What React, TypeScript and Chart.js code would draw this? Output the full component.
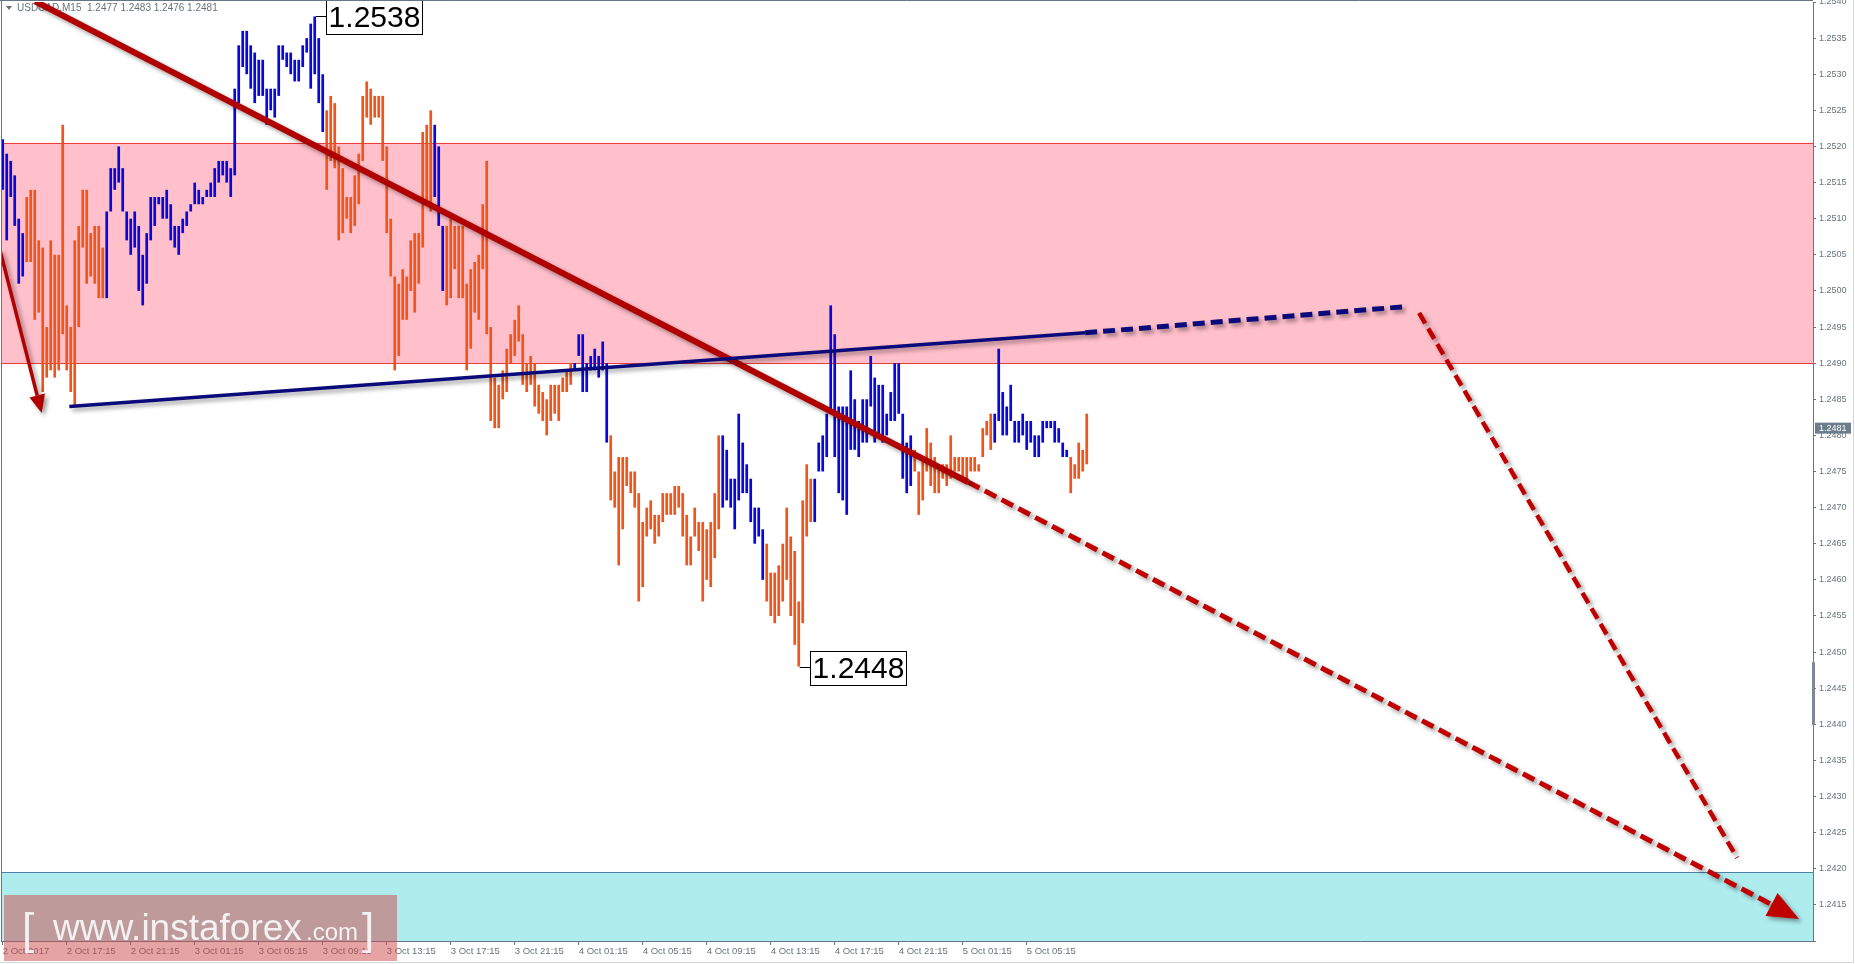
import { useEffect, useRef } from 'react';
import { Chart, registerables } from 'chart.js';

Chart.register(...registerables);

const W = 1855;
const H = 964;

// ---- M15 bars (USDCAD), 2 Oct 2017 13:15 .. 5 Oct 2017 08:45 ----
const BAR_HIGH = [
  1.2521, 1.2519, 1.2518, 1.2516, 1.2510, 1.2508, 1.2513, 1.2514, 1.2514, 1.2507,
  1.2506, 1.2495, 1.2507, 1.2505, 1.2505, 1.2523, 1.2498, 1.2495, 1.2507, 1.2509,
  1.2514, 1.2514, 1.2508, 1.2509, 1.2509, 1.2506, 1.2511, 1.2517, 1.2517, 1.2520,
  1.2517, 1.2511, 1.2510, 1.2511, 1.2509, 1.2505, 1.2508, 1.2513, 1.2513, 1.2513,
  1.2513, 1.2514, 1.2512, 1.2509, 1.2509, 1.2510, 1.2511, 1.2512, 1.2515, 1.2514,
  1.2513, 1.2514, 1.2515, 1.2517, 1.2518, 1.2518, 1.2518, 1.2517, 1.2528, 1.2534,
  1.2536, 1.2536, 1.2534, 1.2533, 1.2532, 1.2532, 1.2528, 1.2528, 1.2528, 1.2534,
  1.2534, 1.2533, 1.2533, 1.2532, 1.2532, 1.2534, 1.2535, 1.2537, 1.2538, 1.2535,
  1.2530, 1.2525, 1.2527, 1.2526, 1.2520, 1.2517, 1.2513, 1.2513, 1.2516, 1.2519,
  1.2527, 1.2529, 1.2528, 1.2527, 1.2527, 1.2527, 1.2520, 1.2510, 1.2502, 1.2501,
  1.2503, 1.2502, 1.2507, 1.2508, 1.2508, 1.2522, 1.2523, 1.2525, 1.2523, 1.2520,
  1.2509, 1.2509, 1.2510, 1.2509, 1.2509, 1.2509, 1.2501, 1.2503, 1.2504, 1.2505,
  1.2512, 1.2518, 1.2495, 1.2488, 1.2487, 1.2489, 1.2492, 1.2494, 1.2496, 1.2498,
  1.2494, 1.2490, 1.2491, 1.2490, 1.2487, 1.2486, 1.2485, 1.2487, 1.2487, 1.2487,
  1.2488, 1.2489, 1.2490, 1.2490, 1.2494, 1.2494, 1.2490, 1.2491, 1.2492, 1.2491,
  1.2493, 1.2490, 1.2480, 1.2475, 1.2477, 1.2477, 1.2477, 1.2475, 1.2475, 1.2472,
  1.2468, 1.2470, 1.2471, 1.2469, 1.2469, 1.2472, 1.2472, 1.2472, 1.2473, 1.2473,
  1.2472, 1.2469, 1.2466, 1.2470, 1.2468, 1.2468, 1.2467, 1.2468, 1.2472, 1.2480,
  1.2480, 1.2478, 1.2474, 1.2474, 1.2483, 1.2479, 1.2476, 1.2474, 1.2470, 1.2470,
  1.2467, 1.2465, 1.2461, 1.2461, 1.2462, 1.2465, 1.2470, 1.2466, 1.2464, 1.2457,
  1.2471, 1.2476, 1.2474, 1.2474, 1.2479, 1.2480, 1.2483, 1.2498, 1.2494, 1.2484,
  1.2484, 1.2484, 1.2489, 1.2485, 1.2482, 1.2485, 1.2485, 1.2491, 1.2488, 1.2487,
  1.2487, 1.2483, 1.2486, 1.2490, 1.2490, 1.2483, 1.2479, 1.2480, 1.2478, 1.2475,
  1.2477, 1.2481, 1.2479, 1.2477, 1.2476, 1.2476, 1.2476, 1.2480, 1.2477, 1.2477,
  1.2477, 1.2477, 1.2477, 1.2477, 1.2476, 1.2481, 1.2482, 1.2483, 1.2483, 1.2492,
  1.2486, 1.2484, 1.2487, 1.2482, 1.2482, 1.2483, 1.2482, 1.2482, 1.2480, 1.2480,
  1.2482, 1.2482, 1.2482, 1.2482, 1.2481, 1.2479, 1.2478, 1.2477, 1.2476, 1.2479,
  1.2478, 1.2483,
];

const BAR_LOW = [
  1.2514, 1.2507, 1.2513, 1.2509, 1.2501, 1.2502, 1.2504, 1.2504, 1.2496, 1.2497,
  1.2486, 1.2488, 1.2489, 1.2488, 1.2489, 1.2494, 1.2489, 1.2486, 1.2484, 1.2495,
  1.2506, 1.2501, 1.2502, 1.2501, 1.2499, 1.2499, 1.2499, 1.2511, 1.2514, 1.2515,
  1.2511, 1.2507, 1.2505, 1.2506, 1.2500, 1.2498, 1.2501, 1.2507, 1.2509, 1.2512,
  1.2510, 1.2510, 1.2507, 1.2506, 1.2505, 1.2508, 1.2509, 1.2511, 1.2512, 1.2512,
  1.2512, 1.2513, 1.2513, 1.2513, 1.2515, 1.2516, 1.2515, 1.2513, 1.2516, 1.2526,
  1.2531, 1.2530, 1.2528, 1.2526, 1.2527, 1.2527, 1.2523, 1.2525, 1.2524, 1.2527,
  1.2532, 1.2531, 1.2530, 1.2529, 1.2529, 1.2531, 1.2533, 1.2528, 1.2530, 1.2526,
  1.2522, 1.2514, 1.2518, 1.2517, 1.2507, 1.2508, 1.2510, 1.2508, 1.2509, 1.2512,
  1.2518, 1.2524, 1.2523, 1.2524, 1.2524, 1.2518, 1.2508, 1.2502, 1.2489, 1.2491,
  1.2496, 1.2496, 1.2500, 1.2497, 1.2501, 1.2506, 1.2512, 1.2511, 1.2513, 1.2509,
  1.2500, 1.2498, 1.2499, 1.2503, 1.2499, 1.2499, 1.2489, 1.2492, 1.2497, 1.2496,
  1.2503, 1.2494, 1.2482, 1.2481, 1.2481, 1.2485, 1.2486, 1.2490, 1.2491, 1.2493,
  1.2487, 1.2486, 1.2487, 1.2484, 1.2483, 1.2482, 1.2480, 1.2482, 1.2483, 1.2482,
  1.2486, 1.2486, 1.2487, 1.2489, 1.2491, 1.2486, 1.2486, 1.2489, 1.2489, 1.2488,
  1.2489, 1.2479, 1.2471, 1.2470, 1.2462, 1.2467, 1.2473, 1.2472, 1.2470, 1.2457,
  1.2459, 1.2466, 1.2467, 1.2465, 1.2466, 1.2468, 1.2469, 1.2469, 1.2469, 1.2470,
  1.2466, 1.2462, 1.2462, 1.2466, 1.2464, 1.2457, 1.2460, 1.2459, 1.2463, 1.2467,
  1.2470, 1.2471, 1.2470, 1.2467, 1.2471, 1.2472, 1.2472, 1.2468, 1.2465, 1.2466,
  1.2460, 1.2457, 1.2455, 1.2454, 1.2455, 1.2457, 1.2460, 1.2455, 1.2451, 1.2448,
  1.2454, 1.2466, 1.2468, 1.2468, 1.2475, 1.2475, 1.2477, 1.2483, 1.2477, 1.2472,
  1.2471, 1.2469, 1.2478, 1.2478, 1.2477, 1.2479, 1.2479, 1.2484, 1.2479, 1.2480,
  1.2479, 1.2480, 1.2482, 1.2482, 1.2483, 1.2474, 1.2472, 1.2473, 1.2475, 1.2469,
  1.2471, 1.2475, 1.2473, 1.2472, 1.2472, 1.2474, 1.2473, 1.2474, 1.2475, 1.2475,
  1.2474, 1.2474, 1.2475, 1.2475, 1.2475, 1.2477, 1.2480, 1.2478, 1.2479, 1.2482,
  1.2480, 1.2480, 1.2482, 1.2479, 1.2479, 1.2480, 1.2478, 1.2479, 1.2477, 1.2477,
  1.2479, 1.2481, 1.2481, 1.2479, 1.2479, 1.2477, 1.2477, 1.2472, 1.2474, 1.2474,
  1.2475, 1.2476,
];

// wave colouring of the bars: [direction, number of bars]
const WAVE_RUNS: [string, number][] = [
  ['up', 6], ['down', 20], ['up', 55], ['down', 27], ['up', 3], ['down', 32],
  ['up', 9], ['down', 28], ['up', 11], ['down', 12], ['up', 25], ['down', 20],
  ['up', 19], ['down', 5],
];

const TIME_LABELS = [
  '2 Oct 2017', '2 Oct 17:15', '2 Oct 21:15', '3 Oct 01:15', '3 Oct 05:15',
  '3 Oct 09:15', '3 Oct 13:15', '3 Oct 17:15', '3 Oct 21:15', '4 Oct 01:15',
  '4 Oct 05:15', '4 Oct 09:15', '4 Oct 13:15', '4 Oct 17:15', '4 Oct 21:15',
  '5 Oct 01:15', '5 Oct 05:15',
];
const BARS_PER_LABEL = 16;

const PRICE_TICKS = [
  1.2410, 1.2415, 1.2420, 1.2425, 1.2430, 1.2435, 1.2440, 1.2445, 1.2450, 1.2455,
  1.2460, 1.2465, 1.2470, 1.2475, 1.2480, 1.2485, 1.2490, 1.2495, 1.2500, 1.2505,
  1.2510, 1.2515, 1.2520, 1.2525, 1.2530, 1.2535, 1.2540,
];

const RESISTANCE_ZONE = [1.2490, 1.25205];
const TARGET_ZONE = [1.2410, 1.24195];

// analysis lines (x = bar index, y = price)
const TREND_LINE = [{ x: 8.1, y: 1.25401 }, { x: 241.3, y: 1.247355 }];
const MAIN_FORECAST = [{ x: 241.3, y: 1.247355 }, { x: 442.2, y: 1.241505 }];
const ALT_FORECAST = [{ x: 354.1, y: 1.249695 }, { x: 433.6, y: 1.24215 }];
const WAVE_ARROW = [{ x: -0.7, y: 1.25057 }, { x: 8.63, y: 1.248551 }];
const SUPPORT_LINE = [{ x: 16.65, y: 1.2484 }, { x: 270.6, y: 1.24942 }];
const SUPPORT_EXT = [{ x: 270.6, y: 1.24942 }, { x: 350.1, y: 1.24978 }];

const EXTREMES = [
  { bar: 78, price: 1.2538, text: '1.2538' },
  { bar: 199, price: 1.2448, text: '1.2448' },
];
const LAST_PRICE = 1.2481;
const HEADER = 'USDCAD,M15  1.2477 1.2483 1.2476 1.2481';

const X_MIN = -0.43;
const X_MAX = X_MIN + 1812 / 4;

const AXIS_COLOR = '#66768a';
const TEXT_COLOR = '#68727e';
const UP_COLOR = '#0808d8';
const DOWN_COLOR = '#f0561a';

function barColors(): string[] {
  const out: string[] = [];
  WAVE_RUNS.forEach(([dir, n]) => {
    for (let i = 0; i < n; i++) out.push(dir === 'up' ? UP_COLOR : DOWN_COLOR);
  });
  return out;
}

function setShadow(ctx: CanvasRenderingContext2D) {
  ctx.shadowColor = 'rgba(0,0,0,0.38)';
  ctx.shadowBlur = 4;
  ctx.shadowOffsetX = 3;
  ctx.shadowOffsetY = 3;
}

function arrowHead(
  ctx: CanvasRenderingContext2D,
  x0: number, y0: number, x1: number, y1: number,
  len: number, half: number, color: string,
) {
  const ang = Math.atan2(y1 - y0, x1 - x0);
  const c = Math.cos(ang);
  const s = Math.sin(ang);
  const tx = x1 + len * c;
  const ty = y1 + len * s;
  ctx.save();
  setShadow(ctx);
  ctx.fillStyle = color;
  ctx.beginPath();
  ctx.moveTo(tx, ty);
  ctx.lineTo(x1 - half * s, y1 + half * c);
  ctx.lineTo(x1 + half * s, y1 - half * c);
  ctx.closePath();
  ctx.fill();
  ctx.restore();
}

const overlayPlugin = {
  id: 'overlay',
  beforeDatasetsDraw(chart: any) {
    const { ctx, chartArea: a, scales } = chart;
    const y = scales.y;
    ctx.save();
    // resistance zone
    const rTop = y.getPixelForValue(RESISTANCE_ZONE[1]);
    const rBot = y.getPixelForValue(RESISTANCE_ZONE[0]);
    ctx.fillStyle = '#ffbfcb';
    ctx.fillRect(a.left, rTop, a.right - a.left, rBot - rTop);
    ctx.strokeStyle = '#ec3c3c';
    ctx.lineWidth = 1;
    ctx.beginPath();
    ctx.moveTo(a.left, Math.round(rTop) + 0.5);
    ctx.lineTo(a.right, Math.round(rTop) + 0.5);
    ctx.moveTo(a.left, Math.round(rBot) + 0.5);
    ctx.lineTo(a.right, Math.round(rBot) + 0.5);
    ctx.stroke();
    // target zone
    const tTop = y.getPixelForValue(TARGET_ZONE[1]);
    const tBot = y.getPixelForValue(TARGET_ZONE[0]);
    ctx.fillStyle = '#afecee';
    ctx.fillRect(a.left, tTop, a.right - a.left, tBot - tTop);
    ctx.strokeStyle = '#4f7fa6';
    ctx.beginPath();
    ctx.moveTo(a.left, Math.round(tTop) + 0.5);
    ctx.lineTo(a.right, Math.round(tTop) + 0.5);
    ctx.stroke();
    // header
    ctx.fillStyle = TEXT_COLOR;
    ctx.beginPath();
    ctx.moveTo(a.left + 5, 6);
    ctx.lineTo(a.left + 11, 6);
    ctx.lineTo(a.left + 8, 10);
    ctx.closePath();
    ctx.fill();
    ctx.font = '10px "Liberation Sans", Arial, sans-serif';
    ctx.textBaseline = 'middle';
    ctx.textAlign = 'left';
    ctx.fillText(HEADER, a.left + 16, 8.5);
    ctx.restore();
  },
  beforeDatasetDraw(chart: any, args: any) {
    if (args.meta.type === 'line') {
      chart.ctx.save();
      setShadow(chart.ctx);
    }
  },
  afterDatasetDraw(chart: any, args: any) {
    if (args.meta.type === 'line') chart.ctx.restore();
  },
  afterDatasetsDraw(chart: any) {
    const { ctx, scales } = chart;
    const x = scales.x;
    const y = scales.y;
    const px = (p: { x: number; y: number }) => [x.getPixelForValue(p.x), y.getPixelForValue(p.y)];
    const [m0x, m0y] = px(MAIN_FORECAST[0]);
    const [m1x, m1y] = px(MAIN_FORECAST[1]);
    arrowHead(ctx, m0x, m0y, m1x, m1y, 31, 13, '#c00000');
    const [w0x, w0y] = px(WAVE_ARROW[0]);
    const [w1x, w1y] = px(WAVE_ARROW[1]);
    arrowHead(ctx, w0x, w0y, w1x, w1y, 18, 8, '#b00000');

    // extreme price labels
    ctx.save();
    EXTREMES.forEach((e) => {
      const bx = x.getPixelForValue(e.bar);
      const by = Math.round(y.getPixelForValue(e.price)) + 0.5;
      const left = Math.round(bx + 11) + 0.5;
      ctx.strokeStyle = '#000';
      ctx.lineWidth = 1;
      ctx.beginPath();
      ctx.moveTo(bx + 1, by);
      ctx.lineTo(left, by);
      ctx.stroke();
      ctx.fillStyle = '#fff';
      ctx.fillRect(left, by - 16, 96, 34);
      ctx.strokeRect(left, by - 16, 96, 34);
      ctx.fillStyle = '#000';
      ctx.font = '30px "Liberation Sans", Arial, sans-serif';
      ctx.textAlign = 'center';
      ctx.textBaseline = 'middle';
      ctx.fillText(e.text, left + 48, by + 2);
    });
    ctx.restore();
  },
  afterDraw(chart: any) {
    const { ctx, chartArea: a, scales } = chart;
    const y = scales.y;
    ctx.save();
    // chart frame (top + left)
    ctx.strokeStyle = AXIS_COLOR;
    ctx.lineWidth = 1;
    ctx.beginPath();
    ctx.moveTo(0, 0.5);
    ctx.lineTo(a.right, 0.5);
    ctx.moveTo(a.left + 0.5, 0);
    ctx.lineTo(a.left + 0.5, a.bottom);
    ctx.stroke();
    // scroll marker on price axis
    const s0 = y.getPixelForValue(1.24486);
    const s1 = y.getPixelForValue(1.24399);
    ctx.fillStyle = '#7a8897';
    ctx.fillRect(a.right - 1, s0, 3, s1 - s0);
    // last price label
    const ly = y.getPixelForValue(LAST_PRICE);
    ctx.fillStyle = '#6e7d8c';
    ctx.fillRect(a.right + 2, ly - 5.5, 36, 11);
    ctx.fillStyle = '#fff';
    ctx.font = '9px "Liberation Sans", Arial, sans-serif';
    ctx.textAlign = 'left';
    ctx.textBaseline = 'middle';
    ctx.fillText(LAST_PRICE.toFixed(4), a.right + 6, ly + 0.5);
    // outer frame
    ctx.strokeStyle = '#d6d6d6';
    ctx.beginPath();
    ctx.moveTo(W - 1.5, 0);
    ctx.lineTo(W - 1.5, H - 1.5);
    ctx.lineTo(0, H - 1.5);
    ctx.stroke();
    // watermark
    ctx.fillStyle = 'rgba(206,72,72,0.5)';
    ctx.fillRect(4, 895, 393, 66);
    ctx.fillStyle = 'rgba(246,246,246,0.95)';
    ctx.textBaseline = 'alphabetic';
    ctx.font = '44px "Liberation Sans", Arial, sans-serif';
    ctx.fillText('[', 22, 944);
    ctx.fillText(']', 362, 944);
    ctx.font = '37px "Liberation Sans", Arial, sans-serif';
    ctx.fillText('www.instaforex', 53, 940);
    ctx.font = '24px "Liberation Sans", Arial, sans-serif';
    ctx.fillText('.com', 306, 940);
    ctx.restore();
  },
};

export default function App() {
  const ref = useRef<HTMLCanvasElement | null>(null);

  useEffect(() => {
    document.body.style.margin = '0';
    const canvas = ref.current;
    if (!canvas) return;
    Chart.defaults.font.family = '"Liberation Sans", Arial, sans-serif';

    const colors = barColors();
    const lineDs = (data: any[], color: string, width: number, dash: number[]) => ({
      type: 'line' as const,
      data,
      borderColor: color,
      borderWidth: width,
      borderDash: dash,
      pointRadius: 0,
      fill: false,
      tension: 0,
      order: 1,
    });

    const chart = new Chart(canvas, {
      type: 'bar',
      data: {
        datasets: [
          {
            type: 'bar',
            data: BAR_HIGH.map((h, i) => ({ x: i, y: [BAR_LOW[i], h] })) as any,
            backgroundColor: colors,
            borderWidth: 0,
            barThickness: 2.7,
            inflateAmount: 0,
            order: 10,
          } as any,
          lineDs(SUPPORT_LINE, '#0a0a7a', 3.5, []),
          lineDs(SUPPORT_EXT, '#0a0a7a', 5, [12, 6]),
          lineDs(TREND_LINE, '#b00000', 6, []),
          lineDs(MAIN_FORECAST, '#c00000', 5, [13, 6]),
          lineDs(ALT_FORECAST, '#c00000', 4.5, [12, 6]),
          lineDs(WAVE_ARROW, '#b00000', 3.5, []),
        ] as any,
      },
      options: {
        responsive: false,
        animation: false,
        devicePixelRatio: 1,
        layout: { padding: { top: 2, left: 1, right: 0, bottom: 0 } },
        plugins: { legend: { display: false }, tooltip: { enabled: false } },
        scales: {
          x: {
            type: 'linear',
            min: X_MIN,
            max: X_MAX,
            offset: false,
            afterBuildTicks: (s: any) => {
              s.ticks = TIME_LABELS.map((_, i) => ({ value: i * BARS_PER_LABEL }));
            },
            afterFit: (s: any) => {
              s.height = 23;
              s.paddingLeft = 0;
              s.paddingRight = 0;
            },
            ticks: {
              autoSkip: false,
              maxRotation: 0,
              align: 'start',
              padding: 1,
              color: TEXT_COLOR,
              font: { size: 9.5 },
              callback: (_v: any, i: number) => TIME_LABELS[i],
            },
            grid: { display: true, drawOnChartArea: false, drawTicks: true, tickLength: 4, color: AXIS_COLOR, offset: false },
            border: { display: true, color: AXIS_COLOR },
          },
          y: {
            type: 'linear',
            position: 'right',
            min: 1.2410,
            max: 1.2540,
            afterBuildTicks: (s: any) => {
              s.ticks = PRICE_TICKS.map((v) => ({ value: v }));
            },
            afterFit: (s: any) => {
              s.width = 42;
              s.paddingTop = 0;
              s.paddingBottom = 0;
            },
            ticks: {
              padding: 3,
              color: TEXT_COLOR,
              font: { size: 9 },
              callback: (v: any) => (Number(v) < 1.24101 ? '' : Number(v).toFixed(4)),
            },
            grid: { display: true, drawOnChartArea: false, drawTicks: true, tickLength: 3, color: AXIS_COLOR },
            border: { display: true, color: AXIS_COLOR },
          },
        },
      } as any,
      plugins: [overlayPlugin],
    });

    return () => chart.destroy();
  }, []);

  return (
    <canvas
      ref={ref}
      width={W}
      height={H}
      style={{ display: 'block', width: W, height: H, background: '#fff' }}
    />
  );
}
